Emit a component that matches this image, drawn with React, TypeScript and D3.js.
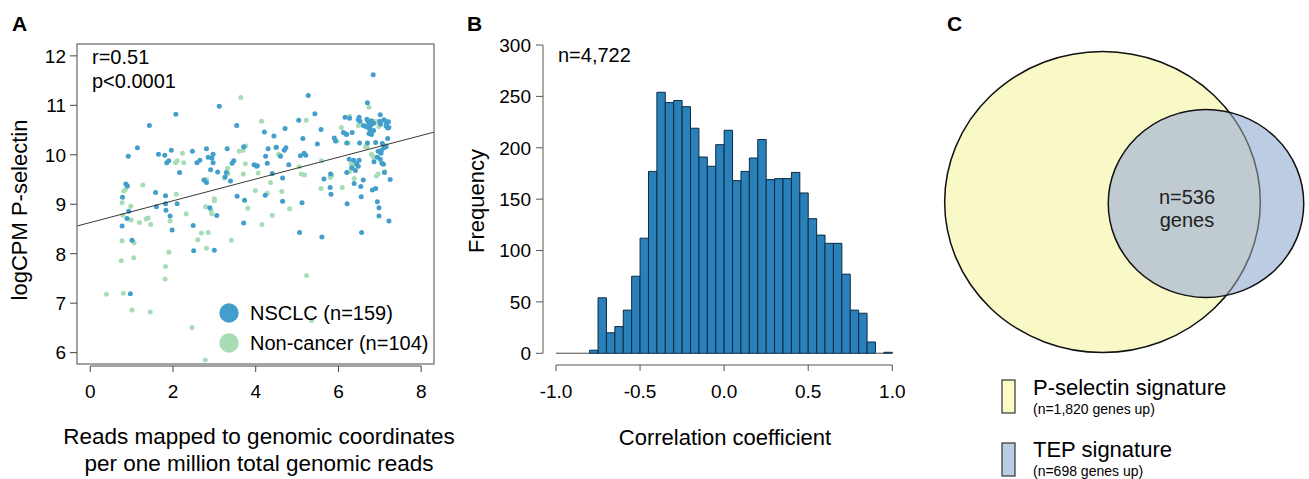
import React from 'react'
import * as d3 from 'd3'

const FONT = '"Liberation Sans", Arial, Helvetica, sans-serif'

// ---- panel A: logCPM P-selectin vs reads mapped ----
const nsclcPoints: [number, number][] = [
  [6.84, 11.62], [5.27, 11.2], [3.12, 10.98], [6.7, 11.05], [2.07, 10.82], [5.43, 10.83], [1.43, 10.59], [3.54, 10.59], [5.04, 10.7], [6.16, 10.76],
  [6.27, 10.74], [6.5, 10.76], [6.48, 10.71], [6.52, 10.68], [6.69, 10.72], [6.71, 10.68], [6.74, 10.64], [6.8, 10.69], [6.85, 10.64], [7.01, 10.81],
  [7.0, 10.68], [7.02, 10.62], [7.1, 10.71], [7.14, 10.68], [7.17, 10.64], [7.21, 10.67], [7.19, 10.54], [7.15, 10.58], [7.22, 10.55], [6.78, 10.59],
  [6.73, 10.54], [6.77, 10.5], [6.85, 10.49], [6.8, 10.41], [6.74, 10.43], [6.6, 10.59], [6.66, 10.57], [6.12, 10.45], [6.18, 10.42], [6.2, 10.41],
  [6.33, 10.45], [5.9, 10.34], [5.93, 10.28], [5.58, 10.51], [4.71, 10.53], [4.44, 10.38], [4.21, 10.46], [5.14, 10.33], [5.49, 10.22], [6.2, 10.24],
  [6.51, 10.24], [6.7, 10.24], [6.9, 10.25], [7.06, 10.23], [7.19, 10.33], [7.15, 10.16], [7.1, 10.14], [7.04, 10.09], [6.96, 10.07], [7.03, 10.03],
  [6.94, 9.95], [6.86, 9.86], [7.01, 9.91], [7.05, 9.83], [7.09, 9.81], [4.3, 10.12], [4.24, 9.97], [4.28, 9.83], [4.04, 9.78], [3.96, 9.8],
  [4.5, 10.15], [4.69, 10.09], [4.73, 10.14], [4.6, 9.97], [4.8, 9.8], [5.08, 9.98], [5.17, 10.03], [5.21, 9.99], [6.26, 9.91], [6.37, 9.89],
  [6.5, 9.89], [6.44, 9.82], [6.32, 9.74], [6.41, 9.68], [6.48, 9.77], [6.2, 9.64], [5.65, 9.51], [5.81, 9.61], [5.8, 9.34], [5.82, 9.2],
  [6.38, 9.42], [6.54, 9.36], [6.6, 9.49], [6.82, 9.29], [6.9, 9.32], [7.11, 9.64], [7.25, 9.5], [6.94, 9.05], [6.21, 9.01], [6.55, 9.15],
  [5.12, 9.03], [4.23, 9.18], [4.65, 9.53], [4.4, 9.62], [1.14, 10.14], [0.92, 9.97], [1.65, 10.01], [1.8, 9.99], [1.96, 10.09], [2.47, 10.07],
  [2.81, 10.12], [2.97, 10.01], [2.94, 9.93], [3.31, 10.12], [3.71, 10.16], [1.85, 9.84], [1.9, 9.88], [2.16, 9.64], [2.58, 9.84], [2.65, 9.89],
  [2.85, 9.95], [2.97, 9.84], [2.91, 9.7], [3.08, 9.65], [3.47, 9.88], [3.43, 9.83], [3.29, 9.64], [3.26, 9.55], [3.39, 9.47], [4.02, 9.77],
  [0.86, 9.41], [0.9, 9.37], [1.58, 9.24], [1.82, 9.17], [2.75, 9.49], [2.81, 9.44], [3.55, 9.16], [3.73, 9.08], [0.78, 9.14], [0.93, 8.86],
  [0.89, 8.71], [0.77, 8.56], [1.6, 8.95], [1.82, 9.01], [1.83, 8.88], [2.1, 9.01], [1.93, 8.76], [1.98, 8.48], [2.49, 8.57], [2.5, 8.06],
  [3.0, 8.07], [2.89, 8.93], [3.06, 8.77], [3.71, 8.62], [1.01, 8.27], [0.97, 7.19], [5.06, 8.43], [5.6, 8.34], [6.56, 8.43], [6.98, 8.93],
  [6.98, 8.76], [7.22, 8.66], [4.65, 9.06],
]

const nonCancerPoints: [number, number][] = [
  [3.64, 11.16], [6.74, 10.96], [5.22, 10.7], [4.14, 10.68], [6.27, 10.78], [6.9, 10.68], [6.97, 10.64], [6.98, 10.57], [6.48, 10.59], [6.07, 10.55],
  [5.96, 10.28], [6.24, 10.24], [6.8, 10.01], [6.83, 9.97], [6.86, 9.95], [6.65, 10.16], [6.69, 10.15], [4.55, 10.01], [4.59, 9.99], [4.48, 10.14],
  [5.59, 9.88], [6.31, 9.82], [6.36, 9.86], [6.4, 9.8], [6.35, 9.73], [6.27, 9.66], [5.84, 9.58], [5.8, 9.54], [5.58, 9.32], [6.09, 9.34],
  [6.38, 9.52], [6.92, 9.57], [6.96, 9.61], [7.12, 9.66], [3.99, 9.28], [4.28, 9.22], [4.63, 9.26], [4.36, 9.44], [5.05, 9.76], [5.1, 9.61],
  [5.18, 9.59], [2.23, 10.03], [3.76, 10.18], [3.7, 10.09], [3.6, 10.07], [2.06, 9.84], [2.1, 9.88], [2.26, 9.84], [3.32, 9.73], [3.24, 9.53],
  [3.33, 9.62], [3.75, 9.82], [3.7, 9.61], [0.85, 9.3], [0.81, 9.27], [1.27, 9.39], [2.08, 9.2], [2.81, 9.5], [3.0, 9.11], [0.77, 9.03],
  [0.98, 8.96], [0.79, 8.78], [0.99, 8.68], [1.19, 8.63], [1.35, 8.7], [1.4, 8.72], [1.46, 8.59], [1.93, 8.66], [2.32, 8.81], [2.69, 8.42],
  [2.85, 8.43], [2.6, 8.28], [2.81, 8.11], [2.79, 8.95], [2.92, 8.88], [2.94, 8.81], [3.0, 9.07], [3.41, 8.27], [3.81, 8.92], [0.77, 8.26],
  [1.06, 8.22], [1.05, 7.92], [0.75, 7.86], [1.9, 8.03], [1.82, 7.74], [1.81, 7.49], [0.39, 7.18], [0.8, 7.2], [1.01, 6.86], [1.45, 6.82],
  [2.46, 6.51], [2.78, 5.85], [4.4, 8.78], [4.15, 8.59], [4.82, 8.91], [5.23, 7.56], [5.35, 6.65], [7.15, 10.19], [4.06, 9.63],
]

const scatterXTicks = [0, 2, 4, 6, 8]
const scatterYTicks = [6, 7, 8, 9, 10, 11, 12]
const regIntercept = 8.63
const regSlope = 0.22
const scatterStats = ['r=0.51', 'p<0.0001']
const scatterLegend = ['NSCLC (n=159)', 'Non-cancer (n=104)']

// ---- panel B: histogram of correlation coefficients ----
const histStart = -1.0
const binWidth = 0.05
const histCounts = [
  0, 0, 0, 0, 3, 54, 20, 26, 42, 75,
  112, 177, 254, 244, 246, 240, 219, 191, 182, 203,
  217, 168, 177, 190, 208, 169, 170, 170, 176, 156,
  131, 115, 107, 107, 77, 42, 39, 11, 0, 1,
]
const histXTicks = [-1, -0.5, 0, 0.5, 1]
const histYTicks = [0, 50, 100, 150, 200, 250, 300]
const histNote = 'n=4,722'

// ---- panel C: venn ----
const vennLabels = ['P-selectin signature', 'TEP signature']
const vennSubLabels = ['(n=1,820 genes up)', '(n=698 genes up)']
const vennSizes = [1820, 698]
const vennOverlap = 536

const BLUE = '#429ecb'
const GREEN = '#a8dcb5'

export default function App() {
  // panel A scales
  const sx = d3.scaleLinear().domain([-0.32, 8.31]).range([77, 434])
  const sy = d3.scaleLinear().domain([5.77, 12.24]).range([364, 44])
  const regLine = d3.line<number>()
    .x(d => sx(d))
    .y(d => sy(regIntercept + regSlope * d))
  // panel B scales
  const hx = d3.scaleLinear().domain([-1, 1]).range([556, 892.3])
  const hy = d3.scaleLinear().domain([0, 300]).range([353.3, 45])
  // panel C
  const vr = d3.scaleSqrt().domain([0, 1820]).range([0, 152.5])
  const ell = [
    {cx: 1102.5, cy: 202, rx: vr(vennSizes[0]) * 1.035, ry: vr(vennSizes[0]) * 0.987},
    {cx: 1206, cy: 203.5, rx: vr(vennSizes[1]) * 1.035, ry: vr(vennSizes[1]) * 0.995},
  ]

  return (
    <svg width={1309} height={479} style={{position: 'absolute', left: 0, top: 0, background: '#fff'}}
      fontFamily={FONT}>
      {/* panel letters */}
      <text x={12} y={31} fontSize={21} fontWeight="bold">A</text>
      <text x={467} y={31} fontSize={21} fontWeight="bold">B</text>
      <text x={947} y={31} fontSize={21} fontWeight="bold">C</text>

      {/* ===== A ===== */}
      <defs>
        <clipPath id="boxA"><rect x={77} y={44} width={357} height={320} /></clipPath>
        <clipPath id="tepClip"><ellipse cx={ell[1].cx} cy={ell[1].cy} rx={ell[1].rx} ry={ell[1].ry} /></clipPath>
      </defs>
      <g clipPath="url(#boxA)">
        {nonCancerPoints.map((d, i) => (
          <circle key={'g' + i} cx={sx(d[0])} cy={sy(d[1])} r={2.5} fill={GREEN} />
        ))}
        {nsclcPoints.map((d, i) => (
          <circle key={'b' + i} cx={sx(d[0])} cy={sy(d[1])} r={2.5} fill={BLUE} />
        ))}
        <path d={regLine(sx.domain()) || ''} stroke="#222" strokeWidth={0.9} fill="none" />
      </g>
      <rect x={77} y={44} width={357} height={320} fill="none" stroke="#666" strokeWidth={1.2} />
      {scatterYTicks.map(t => (
        <g key={'ay' + t}>
          <line x1={70} x2={77} y1={sy(t)} y2={sy(t)} stroke="#444" />
          <text x={66} y={sy(t)} dy="0.36em" textAnchor="end" fontSize={19}>{t}</text>
        </g>
      ))}
      <line x1={sx(0)} x2={sx(8)} y1={366} y2={366} stroke="#444" />
      {scatterXTicks.map(t => (
        <g key={'ax' + t}>
          <line x1={sx(t)} x2={sx(t)} y1={366} y2={372} stroke="#444" />
          <text x={sx(t)} y={398} textAnchor="middle" fontSize={19}>{t}</text>
        </g>
      ))}
      <text x={92} y={64} fontSize={20}>{scatterStats[0]}</text>
      <text x={92} y={88} fontSize={20}>{scatterStats[1]}</text>
      {scatterLegend.map((s, i) => (
        <g key={s}>
          <circle cx={229} cy={313 + i * 30} r={9.7} fill={i === 0 ? BLUE : GREEN} />
          <text x={250} y={313 + i * 30} dy="0.36em" fontSize={20}>{s}</text>
        </g>
      ))}
      <text transform="translate(27,210) rotate(-90)" textAnchor="middle" fontSize={22}>logCPM P-selectin</text>
      <text x={259} y={444} textAnchor="middle" fontSize={22.5}>Reads mapped to genomic coordinates</text>
      <text x={259} y={471} textAnchor="middle" fontSize={22.5}>per one million total genomic reads</text>

      {/* ===== B ===== */}
      {histCounts.map((c, i) => {
        const x0 = hx(histStart + i * binWidth)
        const x1 = hx(histStart + (i + 1) * binWidth)
        const y0 = hy(0)
        const y1 = hy(c)
        return (
          <path key={'h' + i} d={`M${x0},${y0}V${y1}H${x1}V${y0}Z`}
            fill="#2a81b9" stroke={c === 0 ? '#777' : '#0d2a44'} strokeWidth={1} />
        )
      })}
      <line x1={543} x2={543} y1={hy(0)} y2={hy(300)} stroke="#555" />
      {histYTicks.map(t => (
        <g key={'by' + t}>
          <line x1={536} x2={543} y1={hy(t)} y2={hy(t)} stroke="#555" />
          <text x={531} y={hy(t)} dy="0.36em" textAnchor="end" fontSize={19}>{t}</text>
        </g>
      ))}
      <line x1={hx(-1)} x2={hx(1)} y1={365} y2={365} stroke="#555" />
      {histXTicks.map(t => (
        <g key={'bx' + t}>
          <line x1={hx(t)} x2={hx(t)} y1={365} y2={371} stroke="#555" />
          <text x={hx(t)} y={398} textAnchor="middle" fontSize={19}>{t.toFixed(1)}</text>
        </g>
      ))}
      <text x={558} y={62} fontSize={20}>{histNote}</text>
      <text transform="translate(484,201) rotate(-90)" textAnchor="middle" fontSize={22}>Frequency</text>
      <text x={725} y={445} textAnchor="middle" fontSize={22}>Correlation coefficient</text>

      {/* ===== C ===== */}
      <ellipse cx={ell[0].cx} cy={ell[0].cy} rx={ell[0].rx} ry={ell[0].ry} fill="#f8f9c6" stroke="#111" strokeWidth={1.5} />
      <ellipse cx={ell[1].cx} cy={ell[1].cy} rx={ell[1].rx} ry={ell[1].ry} fill="#bccce3" />
      <g clipPath="url(#tepClip)">
        <ellipse cx={ell[0].cx} cy={ell[0].cy} rx={ell[0].rx} ry={ell[0].ry} fill="#bfcbd1" stroke="#5d6469" strokeWidth={1.5} />
      </g>
      <ellipse cx={ell[1].cx} cy={ell[1].cy} rx={ell[1].rx} ry={ell[1].ry} fill="none" stroke="#111" strokeWidth={1.5} />
      <text x={1187} y={197} dy="0.36em" textAnchor="middle" fontSize={20} fill="#222">{'n=' + vennOverlap}</text>
      <text x={1187} y={220} dy="0.36em" textAnchor="middle" fontSize={20} fill="#222">genes</text>

      {vennLabels.map((lab, i) => (
        <g key={lab}>
          <rect x={1002} y={380 + i * 63} width={13} height={33} fill={i === 0 ? '#fbfbc8' : '#bccce3'} stroke="#333" strokeWidth={1.2} />
          <text x={1033} y={395 + i * 62} fontSize={22}>{lab}</text>
          <text x={1033} y={414 + i * 62} fontSize={14}>{vennSubLabels[i]}</text>
        </g>
      ))}
    </svg>
  )
}
